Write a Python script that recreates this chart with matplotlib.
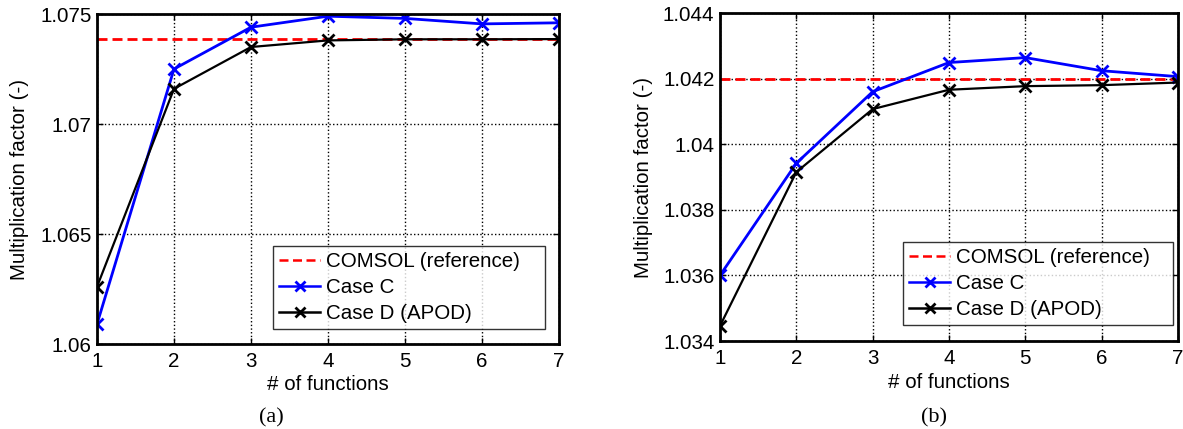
import numpy as np
import matplotlib
matplotlib.use("Agg")
import matplotlib.pyplot as plt

# data
n_functions = [1, 2, 3, 4, 5, 6, 7]

ref_a = 1.07386
case_c_a = [1.0609, 1.0725, 1.0744, 1.0749, 1.0748, 1.07455, 1.0746]
case_d_a = [1.0626, 1.0716, 1.0735, 1.0738, 1.07385, 1.07385, 1.07386]

ref_b = 1.0420
case_c_b = [1.0360, 1.03942, 1.0416, 1.04249, 1.04264, 1.04224, 1.04206]
case_d_b = [1.03446, 1.03915, 1.04107, 1.04166, 1.04177, 1.04180, 1.04188]

yticks_a = [1.06, 1.065, 1.07, 1.075]
ytick_labels_a = ["1.06", "1.065", "1.07", "1.075"]
yticks_b = [1.034, 1.036, 1.038, 1.04, 1.042, 1.044]
ytick_labels_b = ["1.034", "1.036", "1.038", "1.04", "1.042", "1.044"]

plt.rcParams['font.family'] = ['Liberation Sans', 'DejaVu Sans']
FS = 14.8

fig = plt.figure(figsize=(11.83, 4.29), dpi=100)
W, H = 1183, 429


def make_axes(px_left, px_top, px_right, px_bottom):
    return fig.add_axes([px_left / W, 1 - px_bottom / H,
                         (px_right - px_left) / W, (px_bottom - px_top) / H])


def draw_panel(ax, ref, case_c, case_d, yticks, ylabels, ylim, legend_box, ylpad):
    ax.plot([1, 7], [ref, ref], '--', color='red', lw=2, dashes=(3.6, 1.8),
            label='COMSOL (reference)')
    ax.plot(n_functions, case_c, '-x', color='blue', lw=2, ms=9, mew=2,
            label='Case C')
    ax.plot(n_functions, case_d, '-x', color='black', lw=1.6, ms=9, mew=2,
            label='Case D (APOD)')
    ax.set_xlim(1, 7)
    ax.set_ylim(*ylim)
    ax.set_xticks(n_functions)
    ax.set_yticks(yticks)
    ax.set_yticklabels(ylabels)
    ax.grid(True, color='black', linestyle=':', lw=1)
    ax.tick_params(direction='in', top=True, right=True, length=4, width=1,
                   labelsize=FS)
    ax.tick_params(axis='x', pad=6)
    ax.tick_params(axis='y', pad=4)
    for s in ax.spines.values():
        s.set_linewidth(2)
    ax.set_xlabel('# of functions', fontsize=FS, labelpad=3)
    ax.set_ylabel('Multiplication factor (-)', fontsize=FS, labelpad=ylpad)
    leg = ax.legend(loc='lower left', bbox_to_anchor=legend_box,
                    bbox_transform=fig.transFigure, mode='expand',
                    fontsize=FS, frameon=True, fancybox=False,
                    borderpad=0.3, labelspacing=0.33, handlelength=2.0,
                    handletextpad=0.3, borderaxespad=0)
    leg.get_frame().set_edgecolor('black')
    leg.get_frame().set_linewidth(1)
    for line in leg.get_lines():
        line.set_markersize(7)
        line.set_linewidth(1.8)


ax1 = make_axes(97, 14, 559, 344)
draw_panel(ax1, ref_a, case_c_a, case_d_a, yticks_a, ytick_labels_a,
           (1.06, 1.075),
           (273 / W, 1 - 329 / H, (545 - 273) / W, (329 - 240) / H), 8)

ax2 = make_axes(720, 13, 1178, 341)
draw_panel(ax2, ref_b, case_c_b, case_d_b, yticks_b, ytick_labels_b,
           (1.034, 1.044),
           (903 / W, 1 - 325 / H, (1173 - 903) / W, (325 - 236) / H), 7)

fig.text(271 / W, 1 - 418 / H, '(a)', ha='center', va='center',
         fontsize=16, family=['Liberation Serif', 'DejaVu Serif'])
fig.text(934 / W, 1 - 418 / H, '(b)', ha='center', va='center',
         fontsize=16, family=['Liberation Serif', 'DejaVu Serif'])

fig.savefig('out.png', dpi=100)
